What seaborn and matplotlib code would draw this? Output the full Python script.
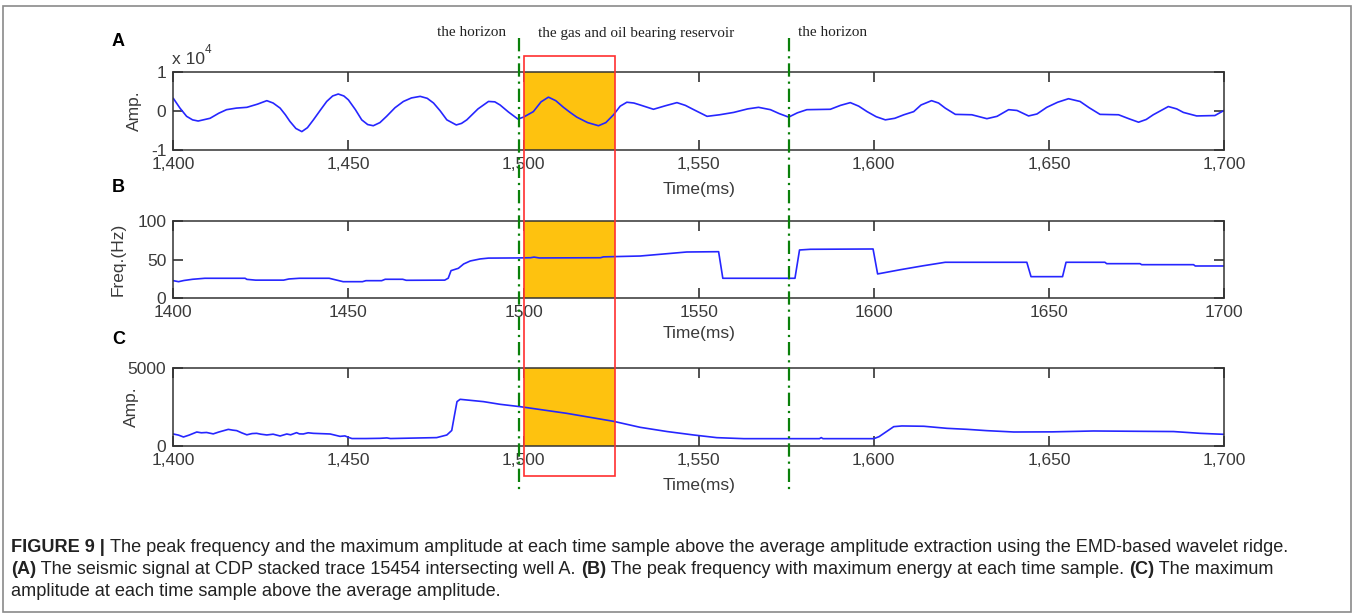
import matplotlib
matplotlib.use("Agg")
import matplotlib.pyplot as plt
from matplotlib.patches import Rectangle
from matplotlib.ticker import FuncFormatter, FixedLocator
import pandas as pd
import seaborn as sns

# ---------------- data ----------------
# (A) seismic trace, amplitude in units of 1e4
time_a = [1400, 1401.9, 1403.8, 1405.5, 1407.1, 1410.5, 1413, 1415.2, 1418, 1421,
          1424, 1426.7, 1428.5, 1430.5, 1432, 1433.3, 1435, 1436.7, 1438.3, 1440,
          1442, 1443.8, 1445.5, 1447.1, 1448.7, 1450, 1452, 1453.8, 1455.5, 1457.1,
          1459, 1460.9, 1463.3, 1465.7, 1468, 1470.5, 1472.5, 1474.3, 1476.2, 1478.1,
          1480.8, 1482.3, 1483.8, 1487, 1490, 1491.8, 1493.3, 1495.7, 1498.4, 1500,
          1502.8, 1505, 1507.1, 1509.2, 1511.4, 1513.3, 1515.2, 1518.3, 1521.4, 1523.5,
          1525.7, 1527.6, 1529.5, 1531.5, 1533.3, 1537.1, 1540.5, 1543.8, 1546.2, 1548.6,
          1552.4, 1556, 1560, 1564, 1567.1, 1570.5, 1573, 1575.7, 1578.2, 1580.9,
          1587.6, 1590.5, 1593.3, 1595.7, 1598.1, 1600.7, 1603.3, 1606, 1608.6, 1611.4,
          1613.5, 1616.5, 1618.5, 1620.4, 1623.3, 1628, 1632.3, 1635.2, 1638.5, 1640.9,
          1644.2, 1646.6, 1649.4, 1652.5, 1655.6, 1658.9, 1661.5, 1664.6, 1669.9, 1672.8,
          1675.6, 1677.8, 1679.8, 1684.1, 1686.5, 1688.4, 1692.2, 1697.4, 1700]
amp_a = [0.32, 0.07, -0.14, -0.23, -0.26, -0.19, -0.06, 0.03, 0.07, 0.09,
         0.17, 0.26, 0.20, 0.07, -0.10, -0.27, -0.45, -0.53, -0.43, -0.23,
         0.02, 0.24, 0.38, 0.43, 0.38, 0.28, 0.03, -0.23, -0.35, -0.38,
         -0.30, -0.14, 0.08, 0.24, 0.33, 0.37, 0.32, 0.20, 0.00, -0.23,
         -0.36, -0.32, -0.23, 0.05, 0.24, 0.23, 0.15, -0.03, -0.21, -0.16,
         -0.02, 0.23, 0.35, 0.26, 0.09, -0.04, -0.16, -0.30, -0.38, -0.30,
         -0.10, 0.12, 0.22, 0.20, 0.15, 0.04, 0.13, 0.21, 0.14, 0.03,
         -0.14, -0.10, -0.04, 0.05, 0.09, 0.03, -0.07, -0.16, -0.05, 0.03,
         0.04, 0.14, 0.21, 0.12, -0.02, -0.15, -0.23, -0.19, -0.10, -0.02,
         0.15, 0.26, 0.20, 0.07, -0.09, -0.10, -0.20, -0.14, 0.03, 0.01,
         -0.13, -0.08, 0.09, 0.22, 0.31, 0.24, 0.08, -0.09, -0.10, -0.20,
         -0.29, -0.22, -0.10, 0.11, 0.05, -0.04, -0.13, -0.12, 0.01]

# (B) peak frequency (Hz)
time_b = [1400, 1401.5, 1403, 1405.5, 1409, 1420.5, 1421, 1423.5, 1431.5, 1433,
          1436, 1444.5, 1446.5, 1448.5, 1454, 1455, 1459.5, 1460.5, 1465.5, 1466.5,
          1477.5, 1478.5, 1479.3, 1481.4, 1482.9, 1484.8, 1487.6, 1490, 1498, 1502,
          1503, 1504.5, 1522, 1522.8, 1533.3, 1546.6, 1555.7, 1556.9, 1577.5, 1578.8,
          1581.9, 1599.8, 1601.1, 1607.6, 1614, 1620.4, 1643.7, 1644.9, 1653.9, 1654.9,
          1666, 1666.5, 1676, 1676.5, 1691.3, 1691.8, 1700]
freq_b = [22.8, 21.5, 23.0, 24.6, 25.9, 25.9, 24.5, 23.5, 23.5, 25.0,
          25.9, 25.9, 23.7, 21.5, 21.5, 22.8, 22.8, 24.6, 24.6, 23.3,
          23.5, 26.0, 35.8, 38.8, 44.4, 48.3, 50.9, 52.0, 52.2, 52.5,
          53.3, 52.2, 52.5, 53.6, 54.7, 59.9, 60.3, 25.9, 25.9, 62.5,
          63.4, 63.8, 31.5, 37.0, 42.0, 46.6, 46.6, 28.0, 28.0, 46.6,
          46.6, 44.8, 44.8, 43.5, 43.5, 41.8, 41.8]

# (C) maximum amplitude above the average amplitude
time_c = [1400, 1401.5, 1402.9, 1404.5, 1406.7, 1408, 1409.5, 1411.4, 1413, 1415.7,
          1417, 1418.1, 1419.5, 1421, 1422.5, 1423.8, 1425, 1426.7, 1428.5, 1430.5,
          1432.4, 1433.5, 1435.2, 1436, 1437.1, 1438.5, 1440, 1444.8, 1447.6, 1449,
          1450, 1451, 1455, 1459, 1461, 1462, 1465, 1475.2, 1478.1, 1479.5,
          1480.3, 1481, 1481.9, 1488.6, 1493.3, 1499, 1512.3, 1525.7, 1533.3, 1541,
          1548.6, 1555.2, 1562.9, 1584.5, 1585, 1585.5, 1600, 1601.5, 1602.9, 1605.7,
          1608, 1614.3, 1620.9, 1626.6, 1632.3, 1640, 1651, 1662.7, 1685.6, 1693.2,
          1700]
amp_c = [773, 700, 580, 700, 900, 850, 870, 780, 900, 1070,
         1020, 990, 850, 720, 800, 815, 760, 710, 760, 644,
         773, 720, 858, 780, 773, 850, 815, 773, 620, 650,
         558, 480, 480, 494, 520, 480, 494, 540, 708, 1000,
         2000, 2854, 3004, 2854, 2683, 2532, 2103, 1588, 1202, 930,
         708, 537, 472, 472, 540, 472, 472, 600, 815, 1245,
         1290, 1270, 1137, 1073, 987, 901, 910, 966, 930, 815,
         751]

horizon_times = [1498.7, 1575.7]
reservoir = (1500, 1526)

x_ticks = [1400, 1450, 1500, 1550, 1600, 1650, 1700]
ylim_a, yticks_a = (-1, 1), [-1, 0, 1]
ylim_b, yticks_b = (0, 100), [0, 50, 100]
ylim_c, yticks_c = (0, 5000), [0, 5000]

caption_lines = [
    [("FIGURE 9 | ", True),
     ("The peak frequency and the maximum amplitude at each time sample above the average "
      "amplitude extraction using the EMD-based wavelet ridge.", False)],
    [("(A)", True), (" The seismic signal at CDP stacked trace 15454 intersecting well A. ", False),
     ("(B)", True), (" The peak frequency with maximum energy at each time sample. ", False),
     ("(C)", True), (" The maximum", False)],
    [("amplitude at each time sample above the average amplitude.", False)],
]

# ---------------- style ----------------
sns.set_theme(style="ticks")
plt.rcParams["font.family"] = ["Liberation Sans", "DejaVu Sans"]
plt.rcParams["axes.unicode_minus"] = False

W, H = 1357, 614
fig = plt.figure(figsize=(W / 100, H / 100), dpi=100)
fig.patch.set_facecolor("white")

LINE = "#2626ff"
FILL = "#fec20f"
TXT = "#3a3a3a"
SPINE = "#333333"

left, right = 173.3, 1224.0
def fx(px):
    return px / W
def box(top_px, bot_px):
    return [fx(left), 1 - bot_px / H, fx(right - left), (bot_px - top_px) / H]

comma = FuncFormatter(lambda v, p: f"{int(v):,}")
plain = FuncFormatter(lambda v, p: f"{int(v)}")

# rect, time, values, ylim, yticks, ylabel, x formatter, ylabel x (axes frac), xlabel pad
panels = [
    (box(71.7, 150.0), time_a, amp_a, ylim_a, yticks_a, "Amp.", comma, -0.030, 7),
    (box(221.0, 298.3), time_b, freq_b, ylim_b, yticks_b, "Freq.(Hz)", plain, -0.045, 4),
    (box(368.3, 446.0), time_c, amp_c, ylim_c, yticks_c, "Amp.", comma, -0.033, 7),
]

axes = []
for rect, t, v, ylim, yt, ylab, fmt, ylx, xpad in panels:
    ax = fig.add_axes(rect)
    ax.axvspan(*reservoir, color=FILL, lw=0, zorder=1)
    df = pd.DataFrame({"t": t, "v": v})
    sns.lineplot(data=df, x="t", y="v", ax=ax, color=LINE, lw=1.2, zorder=3,
                 estimator=None, sort=False)
    ax.set_xlim(1400, 1700)
    ax.set_ylim(*ylim)
    ax.xaxis.set_major_locator(FixedLocator(x_ticks))
    ax.yaxis.set_major_locator(FixedLocator(yt))
    ax.xaxis.set_major_formatter(fmt)
    ax.tick_params(direction="in", length=7, width=1.1, color="#222222",
                   top=True, right=True, labelsize=12.5, labelcolor=TXT)
    ax.tick_params(axis="x", pad=5)
    ax.tick_params(axis="y", pad=5)
    for s in ax.spines.values():
        s.set_color(SPINE)
        s.set_linewidth(1.1)
        s.set_zorder(4)
    ax.set_xlabel("Time(ms)", fontsize=12.5, color=TXT, labelpad=xpad)
    ax.set_ylabel(ylab, fontsize=12.5, color=TXT)
    ax.yaxis.set_label_coords(ylx, 0.5)
    ax.set_facecolor("none")
    axes.append(ax)

# scale factor of panel A
fig.text(fx(172), 1 - 64 / H, "x 10", fontsize=12.5, color=TXT, ha="left", va="baseline")
fig.text(fx(205), 1 - 53 / H, "4", fontsize=8.5, color=TXT, ha="left", va="baseline")

# panel letters
for letter, ypx in zip("ABC", [41, 188, 340]):
    fig.text(fx(112), 1 - ypx / H, letter, fontsize=13, fontweight="bold",
             color="black", ha="left", va="center")

# overlay: horizons and reservoir box spanning all panels (y in pixel rows)
ov = fig.add_axes([fx(left), 0, fx(right - left), 1], zorder=10)
ov.set_xlim(1400, 1700)
ov.set_ylim(H, 0)
ov.axis("off")
ov.patch.set_alpha(0)
for ht in horizon_times:
    ov.plot([ht, ht], [38, 494], color="#0a800a", lw=1.6,
            dashes=[6, 2.2, 1, 2.2], solid_capstyle="butt", dash_capstyle="butt")
ov.add_patch(Rectangle((reservoir[0], 55.7), reservoir[1] - reservoir[0], 420,
                       fill=False, edgecolor="#ff3030", lw=1.2))
serif = ["Liberation Serif", "DejaVu Serif"]
for label, tx in [("the horizon", 1485.3), ("the gas and oil bearing reservoir", 1532.1),
                  ("the horizon", 1588.3)]:
    ov.text(tx, 33, label, family=serif, fontsize=11, color="#222222",
            ha="center", va="center")

# figure frame
fig.patches.append(Rectangle((2.5 / W, 1 - 611.5 / H), 1348 / W, 606 / H,
                             transform=fig.transFigure, fill=False,
                             edgecolor="#8a8a8a", lw=1.2))

# caption: bold run-in labels followed by plain text, laid out left to right
renderer = fig.canvas.get_renderer()

def line_width(segs, size):
    total = 0.0
    for txt, bold in segs:
        t = fig.text(0, 0, txt, fontsize=size, fontweight="bold" if bold else "normal")
        total += t.get_window_extent(renderer).width
        t.remove()
    return total

cap_size = 11.5
cap_size *= 1284.0 / line_width(caption_lines[0], cap_size)

y_lines = [547, 569, 591]
for segs, ypx in zip(caption_lines, y_lines):
    xpx = 11.0
    for txt, bold in segs:
        t = fig.text(xpx / W, 1 - ypx / H, txt, fontsize=cap_size, color="#222222",
                     fontweight="bold" if bold else "normal", ha="left", va="center")
        xpx += t.get_window_extent(renderer).width

fig.savefig("out.png", dpi=100, facecolor="white")
